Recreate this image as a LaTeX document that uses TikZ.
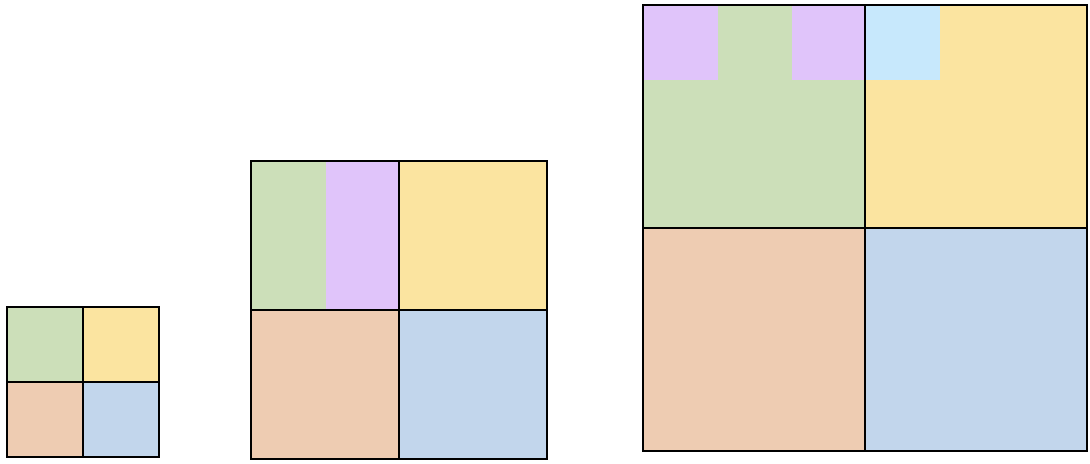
\documentclass[tikz,border=0pt]{standalone}
\usepackage{tikz}
\usepackage{xcolor}
\usetikzlibrary{calc}

\definecolor{qgreen}{HTML}{CCDFB9}
\definecolor{qyellow}{HTML}{FBE4A0}
\definecolor{qorange}{HTML}{EECCB2}
\definecolor{qblue}{HTML}{C2D6EC}
\definecolor{qpurple}{HTML}{E0C4FA}
\definecolor{qsky}{HTML}{C7E8FC}

% four coloured quadrants of a square: x0 y0 x1 y1
\newcommand{\quadfill}[4]{%
  \fill[qgreen]  (#1,#2) rectangle ($(#1,#2)!0.5!(#3,#4)$);
  \fill[qyellow] ($(#1,#2)!0.5!(#3,#2)$) rectangle ($(#3,#2)!0.5!(#3,#4)$);
  \fill[qorange] ($(#1,#2)!0.5!(#1,#4)$) rectangle ($(#1,#4)!0.5!(#3,#4)$);
  \fill[qblue]   ($(#1,#2)!0.5!(#3,#4)$) rectangle (#3,#4);
}
% outline and cross of the square
\newcommand{\quadlines}[4]{%
  \draw[gridline] (#1,#2) rectangle (#3,#4);
  \draw[gridline] ($(#1,#2)!0.5!(#3,#2)$) -- ($(#1,#4)!0.5!(#3,#4)$);
  \draw[gridline] ($(#1,#2)!0.5!(#1,#4)$) -- ($(#3,#2)!0.5!(#3,#4)$);
}

\begin{document}
\begin{tikzpicture}[x=0.01cm, y=-0.01cm, gridline/.style={draw=black, line width=0.75pt}]
\useasboundingbox (0,0) rectangle (1090,464);

% small square
\quadfill{7}{307}{159}{457}
\quadlines{7}{307}{159}{457}

% middle square
\quadfill{251}{161}{547}{459}
\fill[qpurple] (326,161) rectangle (399,311);
\quadlines{251}{161}{547}{459}

% large square
\quadfill{643}{5}{1087}{451}
\fill[qpurple] (643,5) rectangle (718,80);
\fill[qpurple] (792,5) rectangle (865,80);
\fill[qsky] (865,5) rectangle (940,80);
\quadlines{643}{5}{1087}{451}
\end{tikzpicture}
\end{document}
